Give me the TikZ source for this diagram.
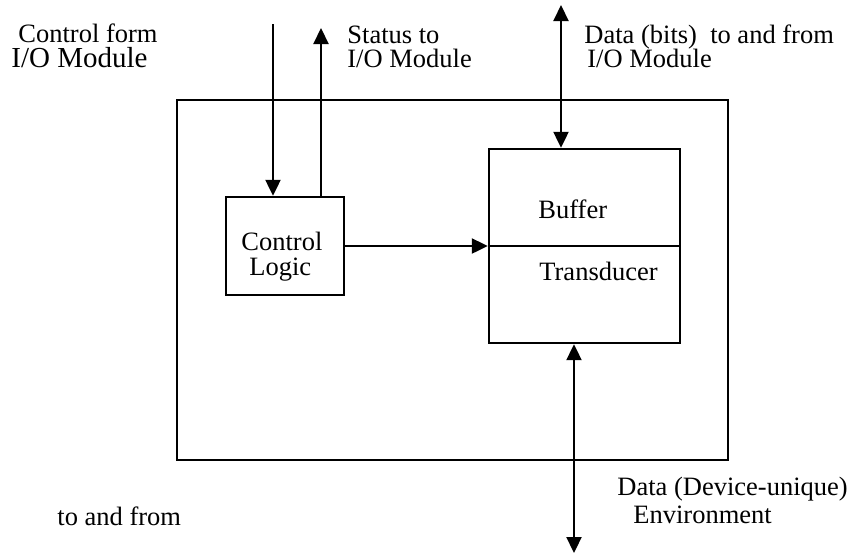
\documentclass[tikz,border=0pt]{standalone}
\usepackage{fontspec}
\setmainfont{Liberation Serif}
\usetikzlibrary{arrows.meta,calc}

\begin{document}
\begin{tikzpicture}[
  x=0.5pt, y=-0.5pt,
  blockbox/.style={draw, line width=1.2pt, inner sep=0pt},
  flowarrow/.style={line width=1.1pt, -{Triangle[length=8pt,width=7.5pt]}},
  duplexarrow/.style={line width=1.1pt,
    {Triangle[length=8pt,width=7.5pt]}-{Triangle[length=8pt,width=7.5pt]}},
  txtlabel/.style={font=\fontsize{13.25}{16}\selectfont, anchor=base west, inner sep=0pt},
  biglabel/.style={font=\fontsize{14.5}{17}\selectfont, anchor=base west, inner sep=0pt},
]

%% ── scale: 1 unit = 1 px of the 851 x 554 page, y grows down ──
\def\px{0.5pt}
\useasboundingbox (0,0) rectangle (851,554);

%% ── boxes (centre, width, height) ────────────────────────
\node[blockbox, minimum width={551*\px}, minimum height={360*\px}]
     (device) at (452.5,280) {};
\node[blockbox, minimum width={118*\px}, minimum height={98*\px}]
     (ctrl) at (285,246) {};
\node[blockbox, minimum width={191*\px}, minimum height={97*\px}]
     (buffer) at (584.5,197.5) {};
\node[blockbox, minimum width={191*\px}, minimum height={97*\px}]
     (transducer) at (584.5,294.5) {};

%% ── texts inside the boxes ───────────────────────────────
\node[txtlabel] (ctrlA) at (241,250) {Control};
\node[txtlabel] (ctrlB) at (249,275) {Logic};
\node[txtlabel] (bufTxt) at (538,218) {Buffer};
\node[txtlabel] (trTxt) at (539,280) {Transducer};

%% ── free ends of the connectors ──────────────────────────
\coordinate (ctrlIn)    at (273,24);
\coordinate (statusOut) at (321,28);
\coordinate (busEnd)    at (561,5);
\coordinate (envEnd)    at (574,553);

%% ── connectors ───────────────────────────────────────────
\draw[flowarrow]   (ctrlIn) -- (ctrlIn |- ctrl.north);
\draw[flowarrow]   (statusOut |- ctrl.north) -- (statusOut);
\draw[duplexarrow] (busEnd) -- (busEnd |- buffer.north);
\draw[flowarrow]   (ctrl.east) -- (ctrl.east -| buffer.west);
\draw[duplexarrow] (transducer.south -| envEnd) -- (envEnd);

%% ── outside labels ───────────────────────────────────────
\node[txtlabel] (ctrlFrom)  at (18,42)  {Control form};
\node[biglabel] (ctrlMod)   at (11,67)  {I/O Module};
\node[txtlabel] (statusTo)  at (347,43) {Status to};
\node[txtlabel] (statusMod) at (347,67) {I/O Module};
\node[txtlabel] (busTxt)    at (584,43) {Data (bits)\ \ to and from};
\node[txtlabel] (busMod)    at (587,67) {I/O Module};
\node[txtlabel] (envTxt)    at (617,495) {Data (Device-unique)};
\node[txtlabel] (envName)   at (633,523) {Environment};
\node[txtlabel] (envFrom)   at (57,525) {to and from};

\end{tikzpicture}
\end{document}
